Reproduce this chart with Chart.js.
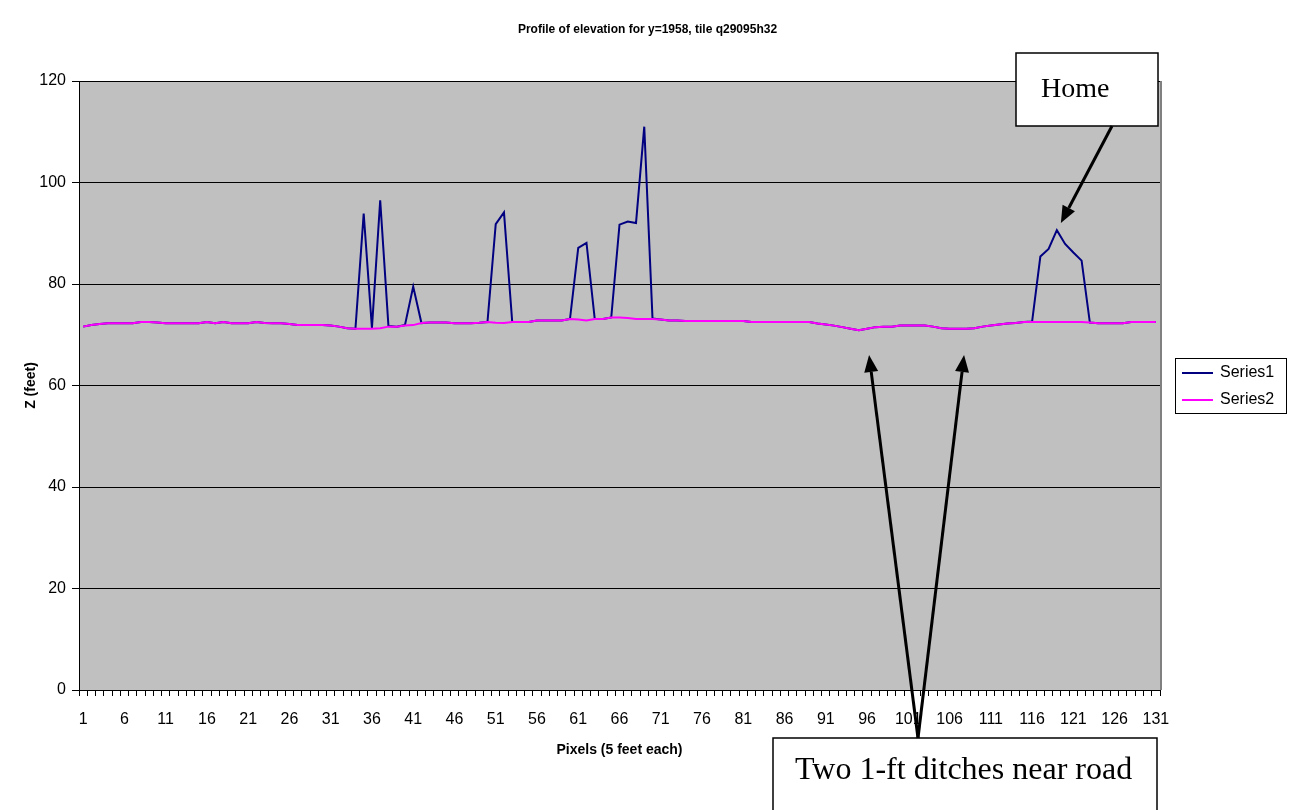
<!DOCTYPE html>
<html>
<head>
<meta charset="utf-8">
<title>Profile of elevation</title>
<script src="https://cdn.jsdelivr.net/npm/chart.js@4.4.1/dist/chart.umd.min.js"></script>
<style>
  html, body { margin: 0; padding: 0; background: #fff; }
</style>
</head>
<body>
<canvas id="profile-chart" width="1295" height="810"></canvas>
<script>
// pixel index along the profile line (1..131)
const pixels = [];
for (let i = 1; i <= 131; i++) pixels.push(String(i));

const yTicks = [0, 20, 40, 60, 80, 100, 120];

// Series1: first return (roofs, trees), Series2: ground
const series1 = [
  71.6, 71.9, 72.1, 72.25, 72.25, 72.25, 72.25, 72.5, 72.5, 72.4,
  72.25, 72.25, 72.25, 72.25, 72.25, 72.5, 72.25, 72.5, 72.25, 72.25,
  72.25, 72.5, 72.3, 72.25, 72.25, 72.1, 71.9, 71.9, 71.9, 71.9,
  71.8, 71.6, 71.3, 71.2, 93.9, 71.3, 96.5, 71.7, 71.6, 71.9,
  79.5, 72.3, 72.4, 72.4, 72.4, 72.25, 72.25, 72.25, 72.35, 72.5,
  91.8, 94.1, 72.5, 72.5, 72.5, 72.8, 72.8, 72.8, 72.8, 73.1,
  87.1, 88.1, 73.1, 73.1, 73.4, 91.7, 92.3, 92.0, 111.0, 73.2,
  73.0, 72.8, 72.8, 72.7, 72.7, 72.7, 72.7, 72.7, 72.7, 72.7,
  72.7, 72.5, 72.5, 72.5, 72.5, 72.5, 72.5, 72.5, 72.5, 72.2,
  72.0, 71.8, 71.5, 71.2, 70.9, 71.2, 71.5, 71.6, 71.6, 71.8,
  71.8, 71.8, 71.8, 71.6, 71.3, 71.2, 71.2, 71.2, 71.3, 71.6,
  71.8, 72.0, 72.2, 72.3, 72.5, 72.6, 85.4, 86.9, 90.6, 87.9,
  86.2, 84.6, 72.4, 72.25, 72.25, 72.25, 72.25, 72.5, 72.5, 72.5, 72.5
];

const series2 = [
  71.6, 71.9, 72.1, 72.25, 72.25, 72.25, 72.25, 72.5, 72.5, 72.4,
  72.25, 72.25, 72.25, 72.25, 72.25, 72.5, 72.25, 72.5, 72.25, 72.25,
  72.25, 72.5, 72.3, 72.25, 72.25, 72.1, 71.9, 71.9, 71.9, 71.9,
  71.8, 71.6, 71.3, 71.2, 71.2, 71.2, 71.3, 71.6, 71.6, 71.8,
  71.9, 72.3, 72.4, 72.4, 72.4, 72.25, 72.25, 72.25, 72.35, 72.5,
  72.35, 72.3, 72.5, 72.5, 72.5, 72.8, 72.8, 72.8, 72.8, 73.1,
  73.0, 72.8, 73.1, 73.1, 73.4, 73.4, 73.3, 73.1, 73.1, 73.1,
  73.0, 72.8, 72.8, 72.7, 72.7, 72.7, 72.7, 72.7, 72.7, 72.7,
  72.7, 72.5, 72.5, 72.5, 72.5, 72.5, 72.5, 72.5, 72.5, 72.2,
  72.0, 71.8, 71.5, 71.2, 70.9, 71.2, 71.5, 71.6, 71.6, 71.8,
  71.8, 71.8, 71.8, 71.6, 71.3, 71.2, 71.2, 71.2, 71.3, 71.6,
  71.8, 72.0, 72.2, 72.3, 72.5, 72.5, 72.5, 72.5, 72.5, 72.5,
  72.5, 72.5, 72.4, 72.25, 72.25, 72.25, 72.25, 72.5, 72.5, 72.5, 72.5
];

const seriesNames = ["Series1", "Series2"];
const seriesColors = ["#000080", "#FF00FF"];

const titleText = "Profile of elevation for y=1958, tile q29095h32";
const sansFont = "'Liberation Sans', Arial, sans-serif";
const serifFont = "'Liberation Serif', 'Times New Roman', serif";

function drawArrow(ctx, x1, y1, x2, y2) {
  const ang = Math.atan2(y2 - y1, x2 - x1);
  const len = 17, half = 7;
  const bx = x2 - len * Math.cos(ang);
  const by = y2 - len * Math.sin(ang);
  ctx.beginPath();
  ctx.moveTo(x1, y1);
  ctx.lineTo(bx, by);
  ctx.stroke();
  ctx.beginPath();
  ctx.moveTo(x2, y2);
  ctx.lineTo(bx + half * Math.sin(ang), by - half * Math.cos(ang));
  ctx.lineTo(bx - half * Math.sin(ang), by + half * Math.cos(ang));
  ctx.closePath();
  ctx.fill();
}

// background, title, legend and the two notes with arrows
const extras = {
  id: "extras",
  beforeDraw(chart) {
    const { ctx, chartArea: a } = chart;
    ctx.save();
    ctx.fillStyle = "#fff";
    ctx.fillRect(0, 0, chart.width, chart.height);
    ctx.fillStyle = "#C0C0C0";
    ctx.fillRect(a.left, a.top, a.right - a.left, a.bottom - a.top);
    ctx.restore();
  },
  afterDraw(chart) {
    const { ctx, chartArea: a } = chart;
    const xs = chart.scales.x;
    const ys = chart.scales.y;
    ctx.save();

    // right edge of the plot
    ctx.strokeStyle = "#808080";
    ctx.lineWidth = 2;
    ctx.beginPath();
    ctx.moveTo(a.right + 1, a.top);
    ctx.lineTo(a.right + 1, a.bottom);
    ctx.stroke();

    // title
    ctx.fillStyle = "#000";
    ctx.font = "bold 12px " + sansFont;
    ctx.textAlign = "center";
    ctx.textBaseline = "middle";
    ctx.fillText(titleText, chart.width / 2, 30);

    // legend
    const lx = a.right + 15, ly = 358;
    ctx.strokeStyle = "#000";
    ctx.lineWidth = 1;
    ctx.strokeRect(lx + 0.5, ly + 0.5, 111, 55);
    ctx.font = "16px " + sansFont;
    ctx.textAlign = "left";
    seriesNames.forEach((name, i) => {
      const y = ly + 15 + i * 27;
      ctx.strokeStyle = seriesColors[i];
      ctx.lineWidth = 2;
      ctx.beginPath();
      ctx.moveTo(lx + 7, y);
      ctx.lineTo(lx + 38, y);
      ctx.stroke();
      ctx.fillStyle = "#000";
      ctx.fillText(name, lx + 45, y);
    });

    // "Home" note
    const hb = { left: a.right - 144, right: a.right - 2, top: a.top - 28, bottom: a.top + 45 };
    ctx.fillStyle = "#fff";
    ctx.fillRect(hb.left, hb.top, hb.right - hb.left, hb.bottom - hb.top);
    ctx.strokeStyle = "#000";
    ctx.lineWidth = 1.5;
    ctx.strokeRect(hb.left, hb.top, hb.right - hb.left, hb.bottom - hb.top);
    ctx.fillStyle = "#000";
    ctx.font = "28px " + serifFont;
    ctx.textBaseline = "alphabetic";
    ctx.fillText("Home", hb.left + 25, a.top + 16);

    ctx.lineWidth = 3;
    ctx.strokeStyle = "#000";
    drawArrow(ctx, hb.left + 96, hb.bottom, xs.getPixelForValue(118) + 4, ys.getPixelForValue(92));

    // ditches note
    const db = { left: 773, top: 738, right: a.right - 3, bottom: chart.height + 20 };
    ctx.fillStyle = "#fff";
    ctx.fillRect(db.left, db.top, db.right - db.left, db.bottom - db.top);
    ctx.strokeStyle = "#000";
    ctx.lineWidth = 1.5;
    ctx.strokeRect(db.left, db.top, db.right - db.left, db.bottom - db.top);
    ctx.fillStyle = "#000";
    ctx.font = "32px " + serifFont;
    ctx.fillText("Two 1-ft ditches near road", db.left + 22, 779);

    ctx.lineWidth = 3;
    const sx = db.left + 145;
    drawArrow(ctx, sx, db.top, xs.getPixelForValue(95) + 2, ys.getPixelForValue(66));
    drawArrow(ctx, sx, db.top, xs.getPixelForValue(107) - 2, ys.getPixelForValue(66));

    ctx.restore();
  }
};

new Chart(document.getElementById("profile-chart"), {
  type: "line",
  data: {
    labels: pixels,
    datasets: [
      {
        label: seriesNames[0],
        data: series1,
        borderColor: seriesColors[0],
        borderWidth: 2,
        pointRadius: 0,
        tension: 0,
        order: 2
      },
      {
        label: seriesNames[1],
        data: series2,
        borderColor: seriesColors[1],
        borderWidth: 2,
        pointRadius: 0,
        tension: 0,
        order: 1
      }
    ]
  },
  options: {
    responsive: false,
    animation: false,
    layout: { padding: { top: 81, right: 135, bottom: 0, left: 0 } },
    plugins: {
      legend: { display: false },
      title: { display: false },
      tooltip: { enabled: false }
    },
    scales: {
      x: {
        offset: true,
        grid: { offset: true, drawOnChartArea: false, color: "#000", tickLength: 6 },
        border: { color: "#000", width: 1 },
        ticks: {
          autoSkip: false,
          maxRotation: 0,
          minRotation: 0,
          padding: 14,
          color: "#000",
          font: { family: sansFont, size: 16 },
          callback: function (value, index) {
            return index % 5 === 0 ? this.getLabelForValue(value) : "";
          }
        },
        title: {
          display: true,
          text: "Pixels (5 feet each)",
          color: "#000",
          font: { family: sansFont, size: 14, weight: "bold" },
          padding: { top: 0, bottom: 51 }
        },
        afterFit(scale) { scale.height = 120; }
      },
      y: {
        min: yTicks[0],
        max: yTicks[yTicks.length - 1],
        grid: { color: "#000", tickLength: 7 },
        border: { color: "#000", width: 1 },
        ticks: {
          stepSize: 20,
          padding: 6,
          color: "#000",
          font: { family: sansFont, size: 16 }
        },
        title: {
          display: true,
          text: "Z (feet)",
          color: "#000",
          font: { family: sansFont, size: 14, weight: "bold" },
          padding: { top: 23, bottom: 0 }
        },
        afterFit(scale) { scale.width = 79; }
      }
    }
  },
  plugins: [extras]
});
</script>
</body>
</html>
